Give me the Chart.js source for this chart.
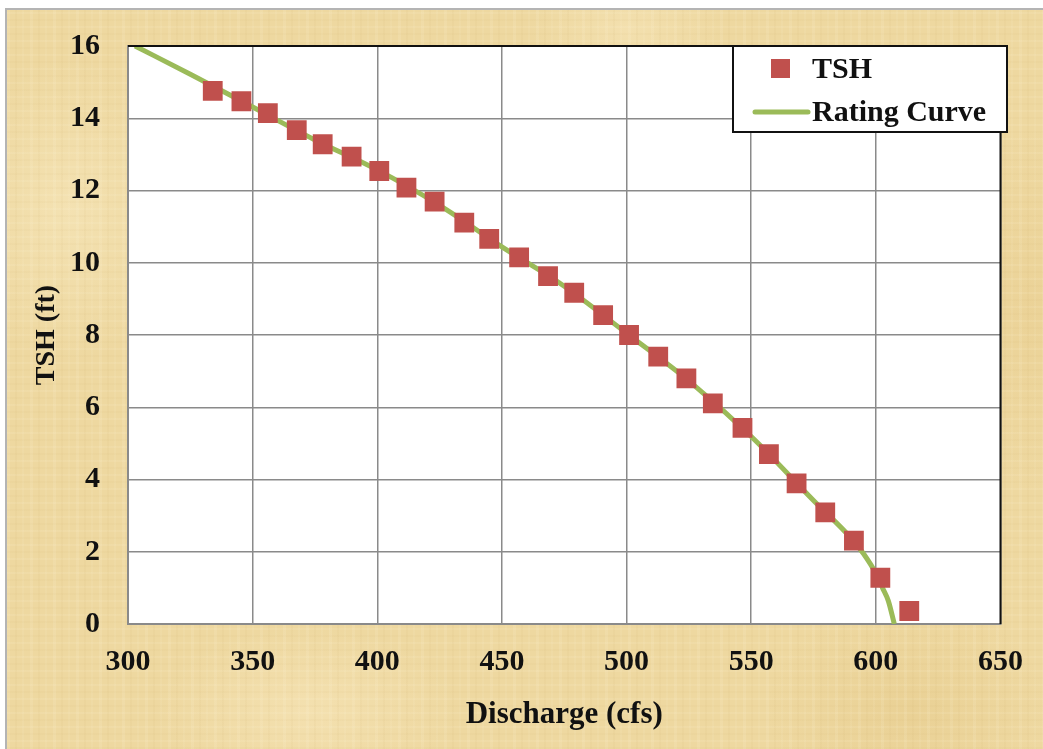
<!DOCTYPE html>
<html>
<head>
<meta charset="utf-8">
<title>TSH Rating Curve</title>
<script src="https://cdn.jsdelivr.net/npm/chart.js@4.4.1/dist/chart.umd.min.js"></script>
<style>
  html, body { margin: 0; padding: 0; background: #ffffff; }
  #wrap { position: relative; width: 1043px; height: 749px; overflow: hidden; }
  /* parchment panel behind the chart */
  #paper {
    position: absolute; left: 5px; top: 8px; width: 1060px; height: 760px;
    border-left: 2px solid #b4b4b4; border-top: 2px solid #b4b4b4;
    background-color: #eed8a0;
    background-image:
      repeating-linear-gradient(90deg, rgba(255,247,222,0.12) 0 3px, rgba(0,0,0,0) 3px 8px, rgba(196,162,92,0.06) 8px 10px, rgba(0,0,0,0) 10px 15px, rgba(255,247,222,0.08) 15px 17px, rgba(0,0,0,0) 17px 23px),
      repeating-linear-gradient(0deg, rgba(255,247,222,0.10) 0 2px, rgba(0,0,0,0) 2px 7px, rgba(196,162,92,0.05) 7px 9px, rgba(0,0,0,0) 9px 14px),
      radial-gradient(ellipse 160px 220px at 60px 200px, rgba(255,244,212,0.35), rgba(255,244,212,0) 70%),
      radial-gradient(ellipse 220px 120px at 300px 700px, rgba(255,240,205,0.35), rgba(255,240,205,0) 70%),
      radial-gradient(ellipse 140px 90px at 620px 20px, rgba(255,242,208,0.30), rgba(255,242,208,0) 70%),
      radial-gradient(ellipse 200px 160px at 900px 700px, rgba(222,190,120,0.28), rgba(222,190,120,0) 70%),
      radial-gradient(ellipse 120px 260px at 1025px 300px, rgba(228,196,128,0.28), rgba(228,196,128,0) 70%);
  }
  canvas { position: absolute; left: 0; top: 0; }
</style>
</head>
<body>
<div id="wrap">
  <div id="paper"></div>
  <canvas id="chart" width="1043" height="749"></canvas>
</div>
<script>
// Measured stage (TSH) against discharge
const tshDischarge = [334.0, 345.5, 356.1, 367.7, 378.1, 389.7, 400.8, 411.7, 423.0, 434.9,
                      444.9, 456.9, 468.5, 479.0, 490.6, 501.0, 512.7, 524.0, 534.6, 546.5,
                      557.1, 568.2, 579.7, 591.2, 601.8, 613.4];
const tshStage = [14.76, 14.47, 14.14, 13.67, 13.28, 12.94, 12.54, 12.08, 11.69, 11.11,
                  10.66, 10.15, 9.63, 9.17, 8.55, 8.00, 7.40, 6.80, 6.11, 5.43,
                  4.70, 3.89, 3.09, 2.31, 1.28, 0.36];

// Fitted rating curve
const curveDischarge = [302.8, 325, 350, 375, 400, 425, 450, 475, 500, 525, 550, 575, 590, 595, 600, 602.8, 605, 607.4];
const curveStage = [16.0, 15.22, 14.31, 13.40, 12.57, 11.59, 10.44, 9.35, 8.05, 6.73, 5.19, 3.42, 2.38, 1.95, 1.40, 0.98, 0.64, 0.0];

// Axis settings
const xTicks = [300, 350, 400, 450, 500, 550, 600, 650];
const yTicks = [0, 2, 4, 6, 8, 10, 12, 14, 16];
const seriesNames = ['TSH', 'Rating Curve'];
const xTitle = 'Discharge (cfs)';
const yTitle = 'TSH (ft)';

const RED = '#c0504d';
const GREEN = '#9bbb59';
const GRID = '#8a8a8a';
const INK = '#111111';
const SERIF = '"Liberation Serif", "Times New Roman", serif';

const toPoints = (xs, ys) => xs.map((x, i) => ({ x: x, y: ys[i] }));

// White plot area with a black frame on top and right
const plotFrame = {
  id: 'plotFrame',
  beforeDraw(chart) {
    const { ctx, chartArea: a } = chart;
    ctx.save();
    ctx.fillStyle = '#ffffff';
    ctx.fillRect(a.left, a.top, a.right - a.left, a.bottom - a.top);
    ctx.restore();
  },
  afterDatasetsDraw(chart) {
    const { ctx, chartArea: a } = chart;
    ctx.save();
    ctx.strokeStyle = INK;
    ctx.lineWidth = 2;
    ctx.beginPath();
    ctx.moveTo(a.left, a.top);
    ctx.lineTo(a.right, a.top);
    ctx.lineTo(a.right, a.bottom);
    ctx.stroke();
    ctx.restore();
  }
};

// Boxed legend inside the upper right of the plot
const boxLegend = {
  id: 'boxLegend',
  afterDraw(chart) {
    const { ctx } = chart;
    const ds = chart.data.datasets;
    const bx = 733, by = 46, bw = 274, bh = 86;
    ctx.save();
    ctx.fillStyle = '#ffffff';
    ctx.fillRect(bx, by, bw, bh);
    ctx.strokeStyle = INK;
    ctx.lineWidth = 2;
    ctx.strokeRect(bx, by, bw, bh);

    ctx.font = 'bold 30px ' + SERIF;
    ctx.textBaseline = 'middle';
    ctx.textAlign = 'left';

    // marker entry
    ctx.fillStyle = ds[0].backgroundColor;
    ctx.fillRect(771, 59, 19, 19);
    ctx.fillStyle = INK;
    ctx.fillText(ds[0].label, 812, 70);

    // line entry
    ctx.strokeStyle = ds[1].borderColor;
    ctx.lineWidth = 5;
    ctx.lineCap = 'round';
    ctx.beginPath();
    ctx.moveTo(755, 112);
    ctx.lineTo(808, 112);
    ctx.stroke();
    ctx.fillText(ds[1].label, 812, 113);
    ctx.restore();
  }
};

new Chart(document.getElementById('chart'), {
  type: 'scatter',
  data: {
    datasets: [
      {
        label: seriesNames[0],
        data: toPoints(tshDischarge, tshStage),
        pointStyle: 'rect',
        pointRadius: 14,
        backgroundColor: RED,
        borderColor: RED,
        borderWidth: 0,
        showLine: false
      },
      {
        label: seriesNames[1],
        data: toPoints(curveDischarge, curveStage),
        showLine: true,
        pointRadius: 0,
        borderColor: GREEN,
        backgroundColor: GREEN,
        borderWidth: 5,
        cubicInterpolationMode: 'monotone',
        fill: false
      }
    ]
  },
  options: {
    responsive: false,
    animation: false,
    events: [],
    layout: { padding: { top: 46, right: 38, left: 0, bottom: 0 } },
    plugins: {
      legend: { display: false },
      tooltip: { enabled: false },
      title: { display: false }
    },
    scales: {
      x: {
        type: 'linear',
        min: xTicks[0],
        max: xTicks[xTicks.length - 1],
        afterBuildTicks(scale) { scale.ticks = xTicks.map(v => ({ value: v })); },
        afterFit(scale) { scale.height = 125; },
        ticks: {
          padding: 20,
          color: INK,
          font: { family: SERIF, size: 30, weight: 'bold' }
        },
        grid: { color: GRID, lineWidth: 1.5, drawTicks: false },
        border: { display: true, color: GRID, width: 2 },
        title: {
          display: true,
          text: xTitle,
          color: INK,
          font: { family: SERIF, size: 31, weight: 'bold' },
          padding: { top: 0, bottom: 15 }
        }
      },
      y: {
        type: 'linear',
        min: yTicks[0],
        max: yTicks[yTicks.length - 1],
        afterBuildTicks(scale) { scale.ticks = yTicks.map(v => ({ value: v })); },
        afterFit(scale) { scale.width = 128; },
        ticks: {
          padding: 28,
          color: INK,
          font: { family: SERIF, size: 30, weight: 'bold' }
        },
        grid: { color: GRID, lineWidth: 1.5, drawTicks: false },
        border: { display: true, color: GRID, width: 2 },
        title: {
          display: true,
          text: yTitle,
          color: INK,
          font: { family: SERIF, size: 28, weight: 'bold' },
          padding: { top: 30, bottom: 0 }
        }
      }
    }
  },
  plugins: [plotFrame, boxLegend]
});
</script>
</body>
</html>
